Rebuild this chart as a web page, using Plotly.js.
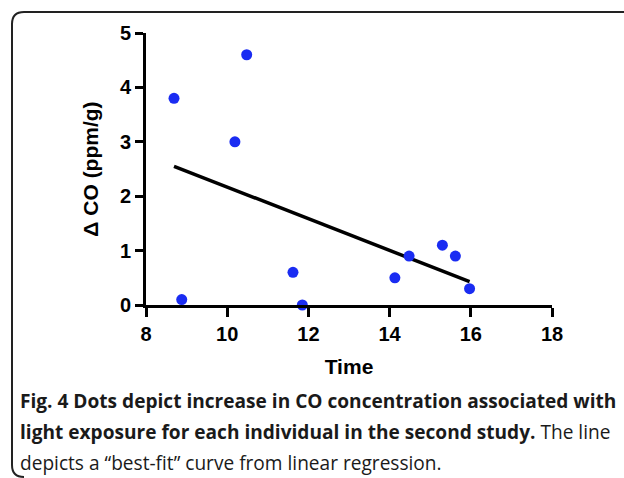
<!DOCTYPE html>
<html>
<head>
<meta charset="utf-8">
<script src="https://cdn.plot.ly/plotly-3.0.1.min.js"></script>
<style>html,body{margin:0;padding:0;background:#fff;}#chart{width:624px;height:478px;}</style>
</head>
<body>
<div id="chart"></div>
<script>
// Data
const timeValues = [8.69, 8.88, 10.19, 10.48, 11.62, 11.85, 14.13, 14.48, 15.30, 15.62, 15.97];
const coValues   = [3.8, 0.1, 3.0, 4.6, 0.6, 0.0, 0.5, 0.9, 1.1, 0.9, 0.3];
const fitTime = [8.69, 15.97];
const fitCO   = [2.55, 0.43];
const xTicks = [8, 10, 12, 14, 16, 18];
const yTicks = [0, 1, 2, 3, 4, 5];
const xTitle = 'Time';
const yTitle = '\u0394 CO (ppm/g)';
const captionLines = [
  '<b>Fig. 4 Dots depict increase in CO concentration associated with</b>',
  '<b>light exposure for each individual in the second study.</b> The line',
  'depicts a \u201cbest-fit\u201d curve from linear regression.'
];

const W = 624, H = 478;
const M = {l: 146, r: 72, t: 33, b: 173};
const pw = W - M.l - M.r, ph = H - M.t - M.b;
const px = x => (x - M.l) / pw;
const py = y => 1 - (y - M.t) / ph;

// rounded frame path (paper coords)
const r = 12, L = 12, T = 12, R = 640, B = 477;
const path = 'M ' + px(R) + ',' + py(T) +
  ' L ' + px(L + r) + ',' + py(T) +
  ' Q ' + px(L) + ',' + py(T) + ' ' + px(L) + ',' + py(T + r) +
  ' L ' + px(L) + ',' + py(B - r) +
  ' Q ' + px(L) + ',' + py(B) + ' ' + px(L + r) + ',' + py(B);

const capFont = {family: '"Open Sans", "Noto Sans", sans-serif', size: 19.1, color: '#1a1a1a'};
const capY = [401, 432, 463];
const annotations = captionLines.map((t, i) => ({
  text: t, xref: 'paper', yref: 'paper', x: px(18), y: py(capY[i]),
  xanchor: 'left', yanchor: 'middle', showarrow: false, align: 'left', font: capFont
}));

const axisFont = {family: '"Liberation Sans", Arial, sans-serif', size: 20, color: '#000', weight: 'bold'};

const traces = [
  {x: fitTime, y: fitCO, mode: 'lines', line: {color: '#000', width: 3.5}, cliponaxis: false, hoverinfo: 'skip'},
  {x: timeValues, y: coValues, mode: 'markers', marker: {color: '#1a2cf2', size: 11}, cliponaxis: false}
];

const layout = {
  width: W, height: H, margin: M, showlegend: false,
  paper_bgcolor: '#fff', plot_bgcolor: '#fff',
  xaxis: {range: [8, 18], tickvals: xTicks, ticktext: xTicks.map(String), showgrid: false, zeroline: false,
    showline: true, linecolor: '#000', linewidth: 3, ticks: 'outside', ticklen: 9, tickwidth: 3, tickcolor: '#000',
    tickfont: axisFont, fixedrange: true,
    title: {text: '<b>' + xTitle + '</b>', font: {family: '"Liberation Sans", Arial, sans-serif', size: 21, color: '#000'}, standoff: 16}},
  yaxis: {range: [0, 5], tickvals: yTicks, ticktext: yTicks.map(String), showgrid: false, zeroline: false,
    showline: true, linecolor: '#000', linewidth: 3, ticks: 'outside', ticklen: 8, tickwidth: 3, tickcolor: '#000',
    tickfont: axisFont, fixedrange: true,
    title: {text: '<b>' + yTitle + '</b>', font: {family: '"Liberation Sans", Arial, sans-serif', size: 21, color: '#000'}, standoff: 16}},
  shapes: [{type: 'path', xref: 'paper', yref: 'paper', path: path, line: {color: '#222', width: 2}, layer: 'above'}],
  annotations: annotations
};

Plotly.newPlot('chart', traces, layout, {displayModeBar: false, staticPlot: true});
</script>
</body>
</html>
